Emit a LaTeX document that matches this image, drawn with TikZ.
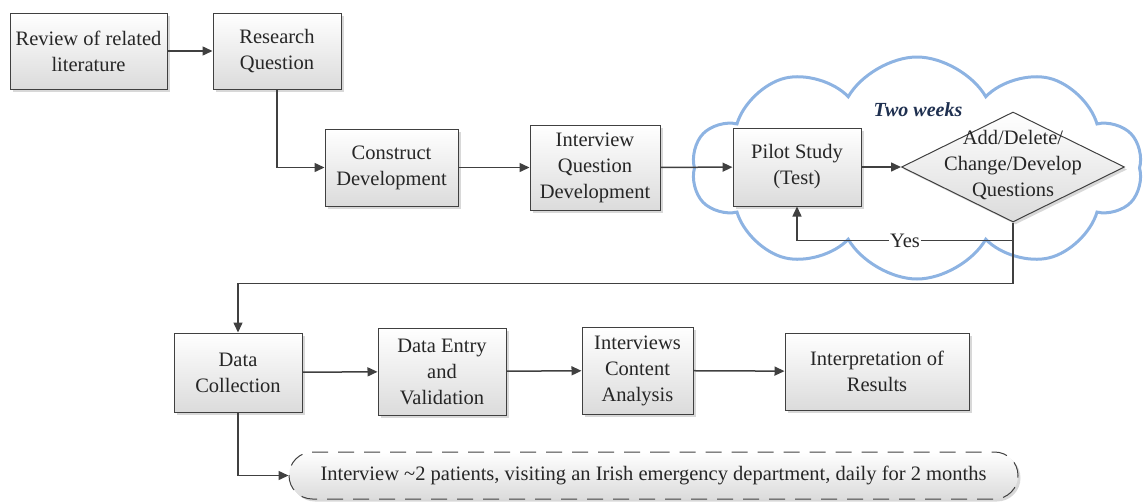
\documentclass[tikz,border=0pt]{standalone}
\usepackage{fontspec}
\setmainfont{Liberation Serif}
\usetikzlibrary{arrows.meta,shapes.geometric,shapes.symbols,shapes.misc,shadows}
\definecolor{edgegray}{HTML}{404040}
\definecolor{txtgray}{HTML}{262626}
\definecolor{cloudblue}{HTML}{8DB3E2}
\definecolor{navy}{HTML}{1F3050}
\tikzset{
  procbox/.style={draw=edgegray, line width=1pt, shading=axis, top color=white, bottom color=gray!28,
    drop shadow={shadow xshift=2.5pt, shadow yshift=-2.5pt, fill=gray!60, opacity=0.5},
    align=center, text=txtgray, inner sep=2pt, font=\rmfamily\fontsize{20.5}{26}\selectfont},
  arr/.style={draw=edgegray, line width=1.5pt, -{Triangle[length=10pt,width=9pt]}},
}
\begin{document}
\begin{tikzpicture}[x=1pt,y=-1pt]
\useasboundingbox (0,0) rectangle (1147,501);
% cloud background
\node[cloud, cloud puffs=10, cloud puff arc=120, aspect=2.1, draw=cloudblue, line width=3pt,
  minimum width=450pt, minimum height=222pt, inner sep=0pt] (cloud) at (917,168) {};
\node[font=\rmfamily\fontsize{20}{24}\selectfont\bfseries\itshape, text=navy] (tw) at (918,110) {Two weeks};
% boxes
\node[procbox, minimum width=157pt, minimum height=76pt] (rev) at (88.5,51) {Review of related\\literature};
\node[procbox, minimum width=128pt, minimum height=76pt] (rq) at (277,51) {Research\\Question};
\node[procbox, minimum width=133pt, minimum height=77pt] (cd) at (391.5,167.5) {Construct\\Development};
\node[procbox, minimum width=130pt, minimum height=85pt] (iqd) at (595,167.5) {Interview\\Question\\Development};
\node[procbox, minimum width=128pt, minimum height=78pt] (pilot) at (797,167) {Pilot Study\\(Test)};
\node[procbox, diamond, aspect=2, inner sep=0pt, minimum width=223pt, minimum height=110pt] (dec) at (1013,167) {};
\node[align=center, text=txtgray, font=\rmfamily\fontsize{20.5}{26}\selectfont] (dectext) at (1013,165) {Add/Delete/\\Change/Develop\\Questions};
\node[procbox, minimum width=128pt, minimum height=79pt] (dc) at (238,372.5) {Data\\Collection};
\node[procbox, minimum width=128pt, minimum height=87pt] (de) at (442,371.5) {Data Entry\\and\\Validation};
\node[procbox, minimum width=111pt, minimum height=87pt] (ica) at (637.5,370.5) {Interviews\\Content\\Analysis};
\node[procbox, minimum width=184pt, minimum height=77pt] (ir) at (877,371.5) {Interpretation of\\Results};
\node[procbox, rounded rectangle, dash pattern=on 16pt off 10pt, minimum width=733pt, minimum height=47pt] (note) at (653.5,475.5)
  {Interview \textasciitilde 2 patients, visiting an Irish emergency department, daily for 2 months};
% connectors
\draw[arr] (rev) -- (rq);
\draw[arr] (rq.south) |- (cd.west);
\draw[arr] (cd) -- (iqd);
\draw[arr] (iqd) -- (pilot);
\draw[arr] (pilot) -- (dec);
\draw[arr] (dec.south) -- ++(0,18) -| node[pos=0.25, fill=white, inner sep=1pt, text=txtgray, font=\rmfamily\fontsize{20.5}{26}\selectfont] (yes) {Yes} (pilot.south);
\draw[arr] (dec.south) -- ++(0,61) -| (dc.north);
\draw[arr] (dc) -- (de);
\draw[arr] (de) -- (ica);
\draw[arr] (ica) -- (ir);
\draw[arr] (dc.south) |- (note.west);
\end{tikzpicture}
\end{document}
